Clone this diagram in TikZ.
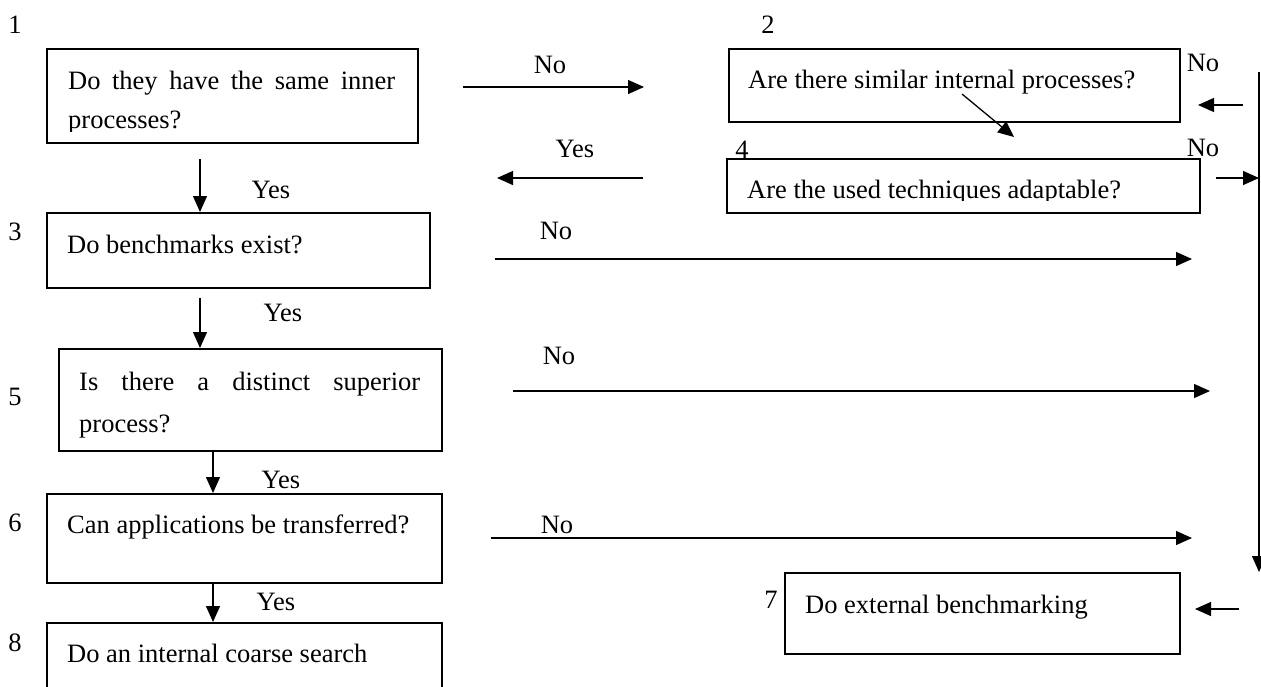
\documentclass[tikz,border=0pt]{standalone}
\usepackage{fontspec}
\setmainfont{Liberation Serif}
\usetikzlibrary{arrows.meta}
\begin{document}
\begin{tikzpicture}[x=1pt,y=-1pt,
  box/.style={draw, line width=1.5pt, rectangle, inner sep=0pt, anchor=north west},
  txt/.style={anchor=base west, inner sep=0pt, font=\fontsize{26.5}{32}\selectfont},
  lbl/.style={inner sep=0pt, font=\fontsize{26.5}{32}\selectfont},
  arr/.style={line width=1.3pt, -{Triangle[length=16pt,width=14pt]}},
]
\useasboundingbox (0,0) rectangle (1261,686);
\clip (0,0) rectangle (1261,686);

% boxes
\node[box, minimum width=371pt, minimum height=94pt] (b1) at (46,48) {};
\node[box, minimum width=451pt, minimum height=73pt] (b2) at (728,48) {};
\node[box, minimum width=473pt, minimum height=54pt] (b4) at (726,158) {};
\node[box, minimum width=383pt, minimum height=75pt] (b3) at (46,212) {};
\node[box, minimum width=383pt, minimum height=102pt] (b5) at (58,348) {};
\node[box, minimum width=395pt, minimum height=89pt] (b6) at (46,493) {};
\node[box, minimum width=395pt, minimum height=81pt] (b7) at (784,572) {};
\node[box, minimum width=395pt, minimum height=90pt] (b8) at (46,622) {};

% box texts
\begin{scope}
  \clip (46,48) rectangle (417,131);
  \node[txt] (t1a) at (68,89) {\makebox[327pt][s]{Do they have the same inner}};
  \node[txt] (t1b) at (68,128) {processes?};
\end{scope}
\node[txt] (t2) at (748,88) {Are there similar internal processes?};
\begin{scope}
  \clip (726,158) rectangle (1199,200.5);
  \node[txt] (t4) at (747,198) {Are the used techniques adaptable?};
\end{scope}
\node[txt] (t3) at (67,253) {Do benchmarks exist?};
\node[txt] (t5a) at (79,390) {\makebox[341pt][s]{Is there a distinct superior}};
\node[txt] (t5b) at (79,432) {process?};
\node[txt] (t6) at (67,533) {Can applications be transferred?};
\node[txt] (t7) at (805,613) {Do external benchmarking};
\node[txt] (t8) at (67,662) {Do an internal coarse search};

% numbers
\node[lbl] (n1) at (15,25) {1};
\node[lbl] (n2) at (768,25) {2};
\node[lbl] (n3) at (15,232) {3};
\node[lbl, anchor=base] (n4) at (742,158) {4};
\node[lbl] (n5) at (15,397) {5};
\node[lbl] (n6) at (15,523) {6};
\node[lbl] (n7) at (771,600) {7};
\node[lbl] (n8) at (15,643) {8};

% yes / no labels
\node[lbl] (l1) at (550,65) {No};
\node[lbl] (l2) at (271,190) {Yes};
\node[lbl] (l3) at (1203,63) {No};
\node[lbl] (l4) at (575,149) {Yes};
\node[lbl] (l5) at (1203,148) {No};
\node[lbl] (l6) at (556,231) {No};
\node[lbl] (l7) at (283,313) {Yes};
\node[lbl] (l8) at (559,356) {No};
\node[lbl] (l9) at (281,480) {Yes};
\node[lbl] (l10) at (557,525) {No};
\node[lbl] (l11) at (276,602) {Yes};

% free arrow ends
\coordinate (a1s) at (463,87);   \coordinate (a1e) at (644,87);
\coordinate (a2s) at (200,159);
\coordinate (a3s) at (643,178);  \coordinate (a3e) at (497,178);
\coordinate (a4s) at (962,94);   \coordinate (a4e) at (1014,137);
\coordinate (a5s) at (1243,105); \coordinate (a5e) at (1198,105);
\coordinate (a6s) at (1216,178); \coordinate (a6e) at (1259,178);
\coordinate (vs) at (1259,72);   \coordinate (ve) at (1259,572);
\coordinate (a8s) at (495,259);  \coordinate (a8e) at (1192,259);
\coordinate (a9s) at (200,298);
\coordinate (a10s) at (513,391); \coordinate (a10e) at (1210,391);
\coordinate (cx) at (213,0);
\coordinate (a12s) at (491,538); \coordinate (a12e) at (1192,538);
\coordinate (a14s) at (1239,609); \coordinate (a14e) at (1195,609);

% connectors
\draw[arr] (a1s) -- (a1e);
\draw[arr] (a2s) -- (a2s |- b3.north);
\draw[arr] (a3s) -- (a3e);
\draw[arr] (a4s) -- (a4e);
\draw[arr] (a5s) -- (a5e);
\draw[arr] (a6s) -- (a6e);
\draw[arr] (vs) -- (ve);
\draw[arr] (a8s) -- (a8e);
\draw[arr] (a9s) -- (a9s |- b5.north);
\draw[arr] (a10s) -- (a10e);
\draw[arr] (cx |- b5.south) -- (cx |- b6.north);
\draw[arr] (a12s) -- (a12e);
\draw[arr] (cx |- b6.south) -- (cx |- b8.north);
\draw[arr] (a14s) -- (a14e);
\end{tikzpicture}
\end{document}
